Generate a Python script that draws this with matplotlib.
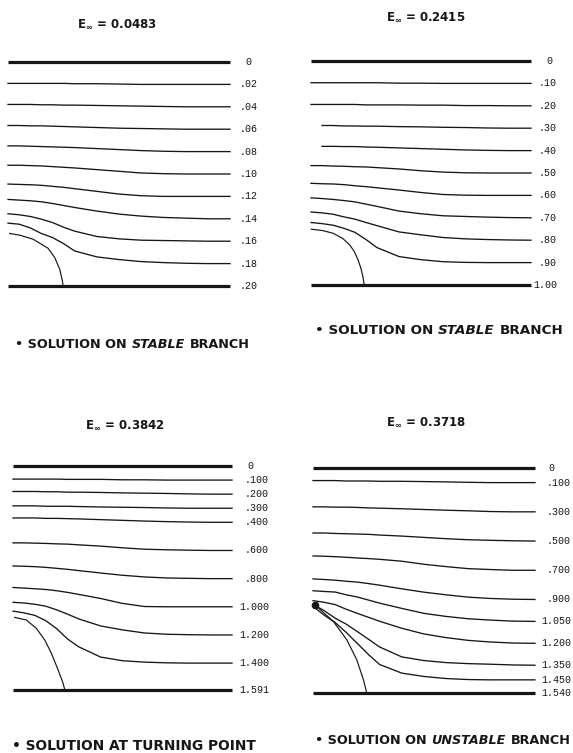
import numpy as np
import matplotlib
matplotlib.use("Agg")
import matplotlib.pyplot as plt

plt.rcParams['font.family'] = ['DejaVu Sans']
plt.rcParams['mathtext.fontset'] = 'dejavusans'
plt.rcParams['mathtext.default'] = 'bf'

NA = float('nan')
W, H = 573, 753
INK = '#161616'

# x stations along the channel (fraction of length), shared by every contour
xs = [0.0, 0.05, 0.1, 0.15, 0.2, 0.25, 0.3, 0.4, 0.5, 0.6, 0.7, 0.8, 0.9, 1.0]

# ---------------- Panel 1 : E = 0.0483 (stable branch) ----------------
p1_energy = "0.0483"
p1_levels = [0.0, 0.02, 0.04, 0.06, 0.08, 0.10, 0.12, 0.14, 0.16, 0.18, 0.20]
p1_labels = ["0", ".02", ".04", ".06", ".08", ".10", ".12", ".14", ".16", ".18", ".20"]
p1_contours = [
    [0.0191, 0.0191, 0.0191, 0.0191, 0.0191, 0.0191, 0.0194, 0.0194, 0.0197, 0.0200, 0.0200, 0.0200, 0.0200, 0.0200],
    [0.0379, 0.0379, 0.0379, 0.0382, 0.0382, 0.0385, 0.0385, 0.0388, 0.0391, 0.0394, 0.0397, 0.0400, 0.0400, 0.0400],
    [0.0567, 0.0567, 0.0570, 0.0570, 0.0573, 0.0576, 0.0579, 0.0585, 0.0591, 0.0594, 0.0597, 0.0600, 0.0600, 0.0600],
    [0.0749, 0.0749, 0.0752, 0.0755, 0.0758, 0.0761, 0.0764, 0.0773, 0.0782, 0.0791, 0.0797, 0.0800, 0.0800, 0.0800],
    [0.0922, 0.0922, 0.0925, 0.0928, 0.0934, 0.0940, 0.0946, 0.0961, 0.0976, 0.0991, 0.0997, 0.1000, 0.1000, 0.1000],
    [0.1090, 0.1093, 0.1096, 0.1101, 0.1110, 0.1119, 0.1131, 0.1155, 0.1179, 0.1194, 0.1200, 0.1200, 0.1200, 0.1200],
    [0.1227, 0.1233, 0.1239, 0.1248, 0.1263, 0.1281, 0.1299, 0.1331, 0.1358, 0.1376, 0.1388, 0.1394, 0.1400, 0.1400],
    [0.1355, 0.1364, 0.1379, 0.1403, 0.1433, 0.1475, 0.1510, 0.1558, 0.1579, 0.1591, 0.1594, 0.1597, 0.1600, 0.1600],
    [0.1439, 0.1448, 0.1481, 0.1531, 0.1567, 0.1621, 0.1687, 0.1740, 0.1764, 0.1782, 0.1791, 0.1797, 0.1800, 0.1800],
]
p1_bubble_x = [0.0075, 0.0526, 0.1128, 0.1504, 0.1805, 0.2105, 0.2331, 0.2451, 0.2481]
p1_bubble_y = [0.1531, 0.1546, 0.1582, 0.1627, 0.1663, 0.1746, 0.1851, 0.1955, 0.2000]
p1_note = ["\u2022 SOLUTION ON", "STABLE", "BRANCH"]

# ---------------- Panel 2 : E = 0.2415 (stable branch) ----------------
p2_energy = "0.2415"
p2_levels = [0.0, 0.10, 0.20, 0.30, 0.40, 0.50, 0.60, 0.70, 0.80, 0.90, 1.00]
p2_labels = ["0", ".10", ".20", ".30", ".40", ".50", ".60", ".70", ".80", ".90", "1.00"]
p2_contours = [
    [0.097, 0.097, 0.097, 0.097, 0.097, 0.097, 0.097, 0.099, 0.099, 0.100, 0.100, 0.100, 0.100, 0.100],
    [0.194, 0.194, 0.194, 0.194, 0.194, 0.196, 0.196, 0.196, 0.197, 0.197, 0.199, 0.199, 0.200, 0.200],
    [NA, 0.288, 0.288, 0.290, 0.290, 0.291, 0.291, 0.293, 0.294, 0.296, 0.297, 0.299, 0.300, 0.300],
    [NA, 0.381, 0.381, 0.382, 0.382, 0.384, 0.385, 0.388, 0.391, 0.394, 0.397, 0.399, 0.400, 0.400],
    [0.467, 0.467, 0.469, 0.470, 0.472, 0.473, 0.476, 0.482, 0.490, 0.496, 0.499, 0.500, 0.500, 0.500],
    [0.546, 0.548, 0.549, 0.552, 0.557, 0.561, 0.566, 0.576, 0.587, 0.596, 0.599, 0.600, 0.600, 0.600],
    [0.611, 0.614, 0.618, 0.623, 0.629, 0.639, 0.649, 0.670, 0.682, 0.691, 0.694, 0.697, 0.699, 0.700],
    [0.674, 0.678, 0.684, 0.696, 0.706, 0.721, 0.735, 0.763, 0.776, 0.788, 0.794, 0.797, 0.799, 0.800],
    [0.721, 0.726, 0.733, 0.747, 0.765, 0.797, 0.833, 0.873, 0.887, 0.896, 0.899, 0.900, 0.900, 0.900],
]
p2_bubble_x = [0.0015, 0.053, 0.100, 0.144, 0.176, 0.197, 0.214, 0.227, 0.236, 0.242]
p2_bubble_y = [0.751, 0.757, 0.769, 0.792, 0.821, 0.851, 0.888, 0.926, 0.963, 1.000]
p2_note = ["\u2022 SOLUTION ON", "STABLE", "BRANCH"]

# ---------------- Panel 3 : E = 0.3842 (turning point) ----------------
p3_energy = "0.3842"
p3_levels = [0.0, 0.1, 0.2, 0.3, 0.4, 0.6, 0.8, 1.0, 1.2, 1.4, 1.591]
p3_labels = ["0", ".100", ".200", ".300", ".400", ".600", ".800", "1.000", "1.200", "1.400", "1.591"]
p3_contours = [
    [0.093, 0.093, 0.093, 0.093, 0.093, 0.095, 0.095, 0.095, 0.098, 0.098, 0.100, 0.100, 0.100, 0.100],
    [0.181, 0.181, 0.181, 0.183, 0.183, 0.186, 0.186, 0.188, 0.191, 0.193, 0.195, 0.198, 0.200, 0.200],
    [0.283, 0.283, 0.283, 0.286, 0.286, 0.286, 0.288, 0.291, 0.293, 0.295, 0.298, 0.300, 0.300, 0.300],
    [0.369, 0.369, 0.369, 0.372, 0.372, 0.374, 0.376, 0.381, 0.386, 0.391, 0.395, 0.398, 0.400, 0.400],
    [0.546, 0.546, 0.548, 0.550, 0.553, 0.555, 0.560, 0.569, 0.581, 0.591, 0.595, 0.598, 0.600, 0.600],
    [0.710, 0.712, 0.715, 0.720, 0.727, 0.734, 0.743, 0.760, 0.776, 0.788, 0.795, 0.798, 0.800, 0.800],
    [0.863, 0.867, 0.872, 0.877, 0.886, 0.898, 0.912, 0.941, 0.976, 0.998, 1.000, 1.000, 1.000, 1.000],
    [0.968, 0.973, 0.982, 0.996, 1.022, 1.053, 1.086, 1.136, 1.164, 1.186, 1.195, 1.198, 1.200, 1.200],
    [1.031, 1.043, 1.061, 1.099, 1.156, 1.230, 1.284, 1.357, 1.383, 1.393, 1.398, 1.400, 1.400, 1.400],
]
p3_bubble_x = [0.0076, 0.0611, 0.1069, 0.1450, 0.1756, 0.2061, 0.2290, 0.2366]
p3_bubble_y = [1.075, 1.094, 1.153, 1.236, 1.331, 1.449, 1.544, 1.591]
p3_note = ["\u2022 SOLUTION AT TURNING POINT"]

# ---------------- Panel 4 : E = 0.3718 (unstable branch) ----------------
p4_energy = "0.3718"
p4_levels = [0.0, 0.1, 0.3, 0.5, 0.7, 0.9, 1.05, 1.2, 1.35, 1.45, 1.54]
p4_labels = ["0", ".100", ".300", ".500", ".700", ".900", "1.050", "1.200", "1.350", "1.450", "1.540"]
p4_contours = [
    [0.086, 0.086, 0.086, 0.089, 0.089, 0.089, 0.091, 0.091, 0.093, 0.095, 0.098, 0.100, 0.100, 0.100],
    [0.266, 0.266, 0.268, 0.268, 0.270, 0.273, 0.275, 0.279, 0.284, 0.289, 0.293, 0.298, 0.300, 0.300],
    [0.445, 0.445, 0.448, 0.450, 0.452, 0.454, 0.459, 0.466, 0.475, 0.484, 0.491, 0.495, 0.498, 0.500],
    [0.602, 0.604, 0.607, 0.611, 0.616, 0.620, 0.625, 0.638, 0.659, 0.675, 0.689, 0.695, 0.700, 0.700],
    [0.759, 0.763, 0.768, 0.775, 0.781, 0.791, 0.802, 0.827, 0.850, 0.868, 0.884, 0.893, 0.898, 0.900],
    [0.840, 0.845, 0.849, 0.868, 0.883, 0.904, 0.925, 0.961, 0.995, 1.016, 1.032, 1.041, 1.048, 1.050],
    [0.908, 0.919, 0.935, 0.967, 0.995, 1.022, 1.049, 1.097, 1.136, 1.161, 1.180, 1.191, 1.198, 1.200],
    [0.933, 0.976, 1.028, 1.069, 1.120, 1.172, 1.225, 1.293, 1.318, 1.332, 1.339, 1.343, 1.348, 1.350],
    [0.946, 1.007, 1.058, 1.126, 1.201, 1.277, 1.345, 1.404, 1.427, 1.441, 1.448, 1.450, 1.450, 1.450],
]
p4_bubble_x = [0.0075, 0.0241, 0.0917, 0.1519, 0.1970, 0.2271, 0.2421]
p4_bubble_y = [0.935, 0.958, 1.050, 1.175, 1.312, 1.449, 1.540]
p4_note = ["\u2022 SOLUTION ON", "UNSTABLE", "BRANCH"]

fig = plt.figure(figsize=(W / 100, H / 100), dpi=100)
fig.patch.set_facecolor('white')


def fx(px):
    return px / W


def fy(py):
    return 1 - py / H


def draw_panel(box, levels, labels, contours, bx, by, energy, title_xy,
               note, note_xy, lab_right, zero_left, note_size, blob=False):
    left, top, right, bottom = box
    ax = fig.add_axes([fx(left), fy(bottom), (right - left) / W, (bottom - top) / H])
    ax.set_xlim(0, 1)
    ax.set_ylim(levels[-1], levels[0])
    ax.axis('off')
    # walls
    for lev in (levels[0], levels[-1]):
        ax.plot([xs[0], xs[-1]], [lev, lev], color=INK, lw=2.3,
                solid_capstyle='butt', clip_on=False)
    # streamlines
    for row in contours:
        ax.plot(xs, row, color=INK, lw=0.95, clip_on=False)
    # free surface of the cavity
    ax.plot(bx, by, color=INK, lw=0.85, clip_on=False)
    if blob:
        ax.plot(bx[:1], by[:1], 'o', color=INK, ms=4.5, clip_on=False)
    # level labels
    for lev, lab in zip(levels, labels):
        if lab == "0":
            ax.annotate(lab, (1, lev), xytext=(zero_left, 0), textcoords='offset points',
                        ha='left', va='center', fontsize=7.2, color=INK,
                        family='Liberation Mono', annotation_clip=False)
        else:
            ax.annotate(lab, (1, lev), xytext=(lab_right, 0), textcoords='offset points',
                        ha='right', va='center', fontsize=7.2, color=INK,
                        family='Liberation Mono', annotation_clip=False)
    # title
    fig.text(fx(title_xy[0]), fy(title_xy[1]), "E$_{\\infty}$ = " + energy,
             ha='center', va='center', fontsize=8.5, fontweight='bold', color=INK)
    # footnote
    t = fig.text(fx(note_xy[0]), fy(note_xy[1]), note[0], ha='left', va='center',
                 fontsize=note_size, fontweight='bold', color=INK)
    for i, part in enumerate(note[1:]):
        italic = (i == 0)
        t = ax.annotate(part, xy=(1, 0), xycoords=t, xytext=(3.4, 0),
                        textcoords='offset points', ha='left', va='bottom',
                        fontsize=note_size,
                        fontweight='semibold' if italic else 'bold',
                        fontstyle='italic' if italic else 'normal',
                        color=INK, annotation_clip=False)
    return ax


draw_panel((8, 62, 230, 286), p1_levels, p1_labels, p1_contours, p1_bubble_x, p1_bubble_y,
           p1_energy, (117, 24), p1_note, (15, 345), 20.2, 10.8, 9.2)
draw_panel((311, 61, 531, 285), p2_levels, p2_labels, p2_contours, p2_bubble_x, p2_bubble_y,
           p2_energy, (426, 17), p2_note, (315, 330), 18.7, 10.8, 9.7)
draw_panel((13, 466, 232, 690), p3_levels, p3_labels, p3_contours, p3_bubble_x, p3_bubble_y,
           p3_energy, (125, 425), p3_note, (12, 746), 26.6, 10.8, 9.9)
draw_panel((313, 468, 535, 693), p4_levels, p4_labels, p4_contours, p4_bubble_x, p4_bubble_y,
           p4_energy, (426, 422), p4_note, (315, 740), 25.9, 9.4, 9.2, blob=True)

fig.savefig("out.png", dpi=100, facecolor='white')
